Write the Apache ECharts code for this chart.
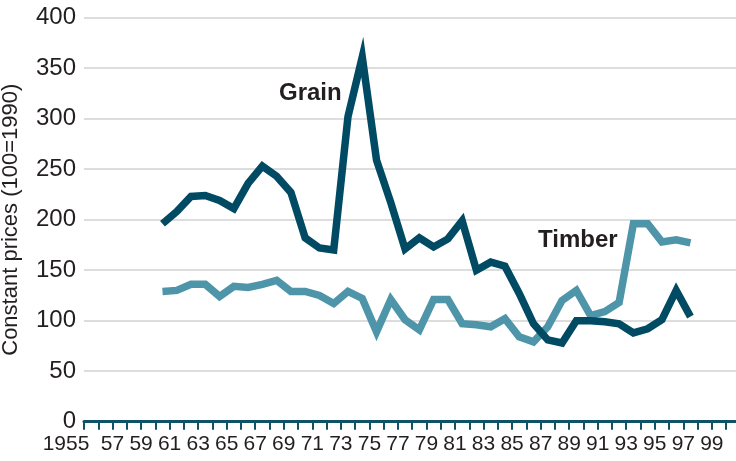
<!DOCTYPE html>
<html>
<head>
<meta charset="utf-8">
<script src="https://cdn.jsdelivr.net/npm/echarts@6/dist/echarts.min.js"></script>
<style>
  html, body { margin: 0; padding: 0; background: #fff; }
  #main { width: 736px; height: 461px; }
</style>
</head>
<body>
<div id="main"></div>
<script>
var years = [1960, 1961, 1962, 1963, 1964, 1965, 1966, 1967, 1968, 1969,
             1970, 1971, 1972, 1973, 1974, 1975, 1976, 1977, 1978, 1979,
             1980, 1981, 1982, 1983, 1984, 1985, 1986, 1987, 1988, 1989,
             1990, 1991, 1992, 1993, 1994, 1995, 1996, 1997];
var grain = [196, 208, 223, 224, 219, 211, 236, 253, 243, 227,
             182, 172, 170, 302, 361, 259, 217, 171, 182, 173,
             181, 199, 150, 158, 154, 127, 97, 81, 78, 100,
             100, 99, 97, 88, 92, 101, 130, 104];
var timber = [129, 130, 136, 136, 124, 134, 133, 136, 140, 129,
              129, 125, 117, 129, 122, 89, 121, 101, 91, 121,
              121, 97, 96, 94, 102, 84, 79, 94, 120, 130,
              105, 109, 118, 196, 196, 178, 180, 177];
var yTicks = [0, 50, 100, 150, 200, 250, 300, 350, 400];

var darkTeal = '#004b63';
var lightTeal = '#4e95a9';
var numFont = '"Liberation Sans Narrow", "Liberation Sans", sans-serif';

// values are plotted at the middle of each year
function pairs(vals) {
    return years.map(function (y, i) { return [y + 0.5, vals[i]]; });
}

var chart = echarts.init(document.getElementById('main'));
chart.setOption({
    animation: false,
    grid: { left: 84, top: 17.7, width: 656.4, height: 404, containLabel: false, outerBoundsMode: 'none' },
    xAxis: {
        type: 'value',
        min: 1955,
        max: 2001,
        interval: 1,
        splitLine: { show: false },
        axisLine: { show: true, lineStyle: { color: '#0e5266', width: 3 } },
        axisTick: { show: true, length: 8, lineStyle: { color: '#0e5266', width: 2 } },
        axisLabel: {
            margin: 12,
            fontFamily: numFont,
            fontSize: 21,
            color: '#231f20',
            showMaxLabel: false,
            formatter: function (v) {
                if (v % 2 === 0 || v > 1999) return '';
                if (v === 1955) return '{a|1955}';
                return String(v).slice(2);
            },
            rich: {
                a: { fontFamily: numFont, fontSize: 21, color: '#231f20', padding: [0, 36, 0, 0] }
            }
        }
    },
    yAxis: {
        type: 'value',
        min: yTicks[0],
        max: yTicks[yTicks.length - 1],
        interval: 50,
        name: 'Constant prices (100=1990)',
        nameLocation: 'middle',
        nameGap: 62,
        nameTextStyle: { fontFamily: '"Liberation Sans", sans-serif', fontSize: 22, color: '#231f20' },
        axisLine: { show: false },
        axisTick: { show: false },
        splitLine: { lineStyle: { color: '#d2d2d2', width: 1.5 } },
        axisLabel: { margin: 8, fontFamily: numFont, fontSize: 24, color: '#231f20' }
    },
    graphic: [
        { type: 'text', left: 279, top: 81, style: { text: 'Grain', font: 'bold 24px "Liberation Sans", sans-serif', fill: '#231f20' } },
        { type: 'text', left: 538, top: 228, style: { text: 'Timber', font: 'bold 24px "Liberation Sans", sans-serif', fill: '#231f20' } }
    ],
    series: [
        {
            name: 'Timber', type: 'line', data: pairs(timber), symbol: 'none',
            lineStyle: { color: lightTeal, width: 7.5, join: 'miter', cap: 'butt' }
        },
        {
            name: 'Grain', type: 'line', data: pairs(grain), symbol: 'none',
            lineStyle: { color: darkTeal, width: 7.5, join: 'miter', cap: 'butt' }
        }
    ]
});
</script>
</body>
</html>
